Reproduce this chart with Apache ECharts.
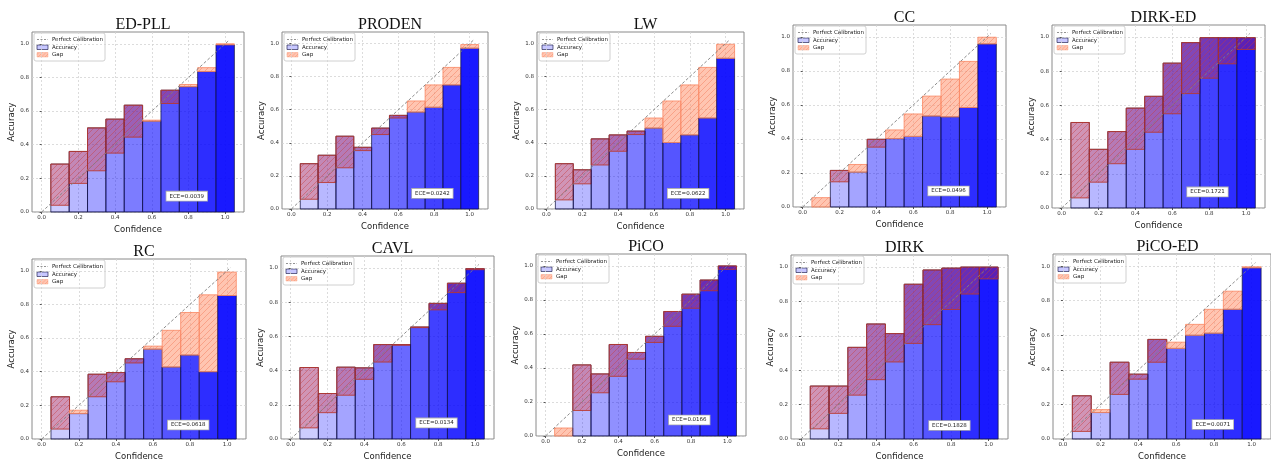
<!DOCTYPE html>
<html>
<head>
<meta charset="utf-8">
<script src="https://cdn.jsdelivr.net/npm/echarts@6.0.0/dist/echarts.min.js"></script>
<style>
  html, body { margin: 0; padding: 0; background: #fff; }
  #main { width: 1271px; height: 462px; }
</style>
</head>
<body>
<div id="main"></div>
<script>
// bin centres and tick labels
var bins = [0.1, 0.2, 0.3, 0.4, 0.5, 0.6, 0.7, 0.8, 0.9, 1.0];
var ticks = [0, 0.2, 0.4, 0.6, 0.8, 1.0];
var diagonal = [0, 1.02];

var models = ['ED-PLL', 'PRODEN', 'LW', 'CC', 'DIRK-ED', 'RC', 'CAVL', 'PiCO', 'DIRK', 'PiCO-ED'];
var eceValues = ['0.0039', '0.0242', '0.0622', '0.0496', '0.1721', '0.0618', '0.0134', '0.0166', '0.1828', '0.0071'];

// acc = lower edge of the gap, top = upper edge, kind: u = gap over accuracy (purple), o = gap above (salmon)
var edpllAcc = [0.04, 0.17, 0.245, 0.35, 0.445, 0.54, 0.645, 0.745, 0.835, 0.994];
var edpllTop = [0.285, 0.36, 0.5, 0.552, 0.635, 0.546, 0.724, 0.758, 0.858, 1.0];
var edpllKind = 'uuuuuouooo';

var prodenAcc = [0.059, 0.16, 0.249, 0.353, 0.45, 0.55, 0.586, 0.615, 0.75, 0.972];
var prodenTop = [0.274, 0.325, 0.44, 0.373, 0.489, 0.566, 0.653, 0.75, 0.856, 0.994];
var prodenKind = 'uuuuuuoooo';

var lwAcc = [0.055, 0.152, 0.266, 0.349, 0.45, 0.489, 0.402, 0.448, 0.55, 0.911];
var lwTop = [0.274, 0.237, 0.424, 0.448, 0.471, 0.55, 0.653, 0.75, 0.856, 0.996];
var lwKind = 'uuuuuooooo';

var ccAcc = [0, 0.148, 0.205, 0.352, 0.402, 0.415, 0.535, 0.53, 0.585, 0.959];
var ccTop = [0.055, 0.215, 0.25, 0.398, 0.453, 0.547, 0.652, 0.752, 0.856, 0.998];
var ccKind = 'ououoooooo';

var dirkedAcc = [0.059, 0.151, 0.259, 0.343, 0.443, 0.551, 0.669, 0.759, 0.843, 0.927];
var dirkedTop = [0.5, 0.343, 0.447, 0.584, 0.653, 0.847, 0.967, 0.996, 0.996, 0.996];
var dirkedKind = 'uuuuuuuuuu';

var rcAcc = [0.059, 0.151, 0.251, 0.34, 0.452, 0.534, 0.428, 0.499, 0.4, 0.853];
var rcTop = [0.251, 0.171, 0.385, 0.395, 0.477, 0.552, 0.646, 0.752, 0.857, 0.992];
var rcKind = 'uouuuooooo';

var cavlAcc = [0.065, 0.154, 0.256, 0.349, 0.45, 0.548, 0.651, 0.755, 0.856, 0.99];
var cavlTop = [0.418, 0.266, 0.42, 0.416, 0.552, 0.552, 0.655, 0.793, 0.911, 0.996];
var cavlKind = 'uuuuuuuuuu';

var picoAcc = [0, 0.15, 0.254, 0.351, 0.452, 0.55, 0.645, 0.751, 0.854, 0.98];
var picoTop = [0.047, 0.418, 0.365, 0.538, 0.491, 0.586, 0.732, 0.834, 0.917, 1.0];
var picoKind = 'ouuuuuuuuu';

var dirkAcc = [0.059, 0.149, 0.255, 0.345, 0.448, 0.556, 0.665, 0.753, 0.843, 0.931];
var dirkTop = [0.308, 0.308, 0.533, 0.669, 0.613, 0.9, 0.983, 0.994, 1.0, 1.0];
var dirkKind = 'uuuuuuuuuu';

var picoedAcc = [0.044, 0.153, 0.258, 0.346, 0.444, 0.524, 0.6, 0.612, 0.75, 0.99];
var picoedTop = [0.25, 0.17, 0.444, 0.375, 0.576, 0.56, 0.663, 0.75, 0.855, 0.996];
var picoedKind = 'uouuuooooo';

var accs = [edpllAcc, prodenAcc, lwAcc, ccAcc, dirkedAcc, rcAcc, cavlAcc, picoAcc, dirkAcc, picoedAcc];
var tops = [edpllTop, prodenTop, lwTop, ccTop, dirkedTop, rcTop, cavlTop, picoTop, dirkTop, picoedTop];
var kinds = [edpllKind, prodenKind, lwKind, ccKind, dirkedKind, rcKind, cavlKind, picoKind, dirkKind, picoedKind];

// plot boxes [left, top, width, height]
var layout = [
  [32, 32, 212, 180], [282, 32, 206, 177], [537, 32, 207, 177], [793, 25, 213, 182], [1052, 25, 213, 183],
  [32, 259, 214, 182], [281, 256, 213, 183], [536, 254, 210, 182], [791, 255, 217, 187], [1053, 254, 219, 187]
];

var sans = 'DejaVu Sans';

// diagonal "/" hatch clipped to a box
function hatch(x0, y0, x1, y1, step, style) {
  var out = [];
  var k = Math.ceil((x0 + y0) / step) * step;
  for (; k < x1 + y1; k += step) {
    var xa = Math.max(x0, k - y1), xb = Math.min(x1, k - y0);
    if (xb > xa) out.push({ type: 'line', silent: true, shape: { x1: xa, y1: k - xa, x2: xb, y2: k - xb }, style: style });
  }
  return out;
}

function renderBin(params, api) {
  var c = api.value(0), lo = api.value(1), hi = api.value(2), k = api.value(3), i = api.value(4);
  var a = 0.2 + 0.078 * i;
  var children = [];
  var purple = k === 0;
  var blueTop = purple ? hi : lo;
  if (blueTop > 0) {
    var p0 = api.coord([c - 0.05, 0]), p1 = api.coord([c + 0.05, blueTop]);
    children.push({
      type: 'rect',
      shape: { x: p0[0], y: p1[1], width: p1[0] - p0[0], height: p0[1] - p1[1] },
      style: { fill: 'rgba(0,0,255,' + a.toFixed(3) + ')', stroke: 'rgba(20,20,70,0.75)', lineWidth: 1 }
    });
  }
  var g0 = api.coord([c - 0.05, lo]), g1 = api.coord([c + 0.05, hi]);
  children.push({
    type: 'rect',
    shape: { x: g0[0], y: g1[1], width: g1[0] - g0[0], height: g0[1] - g1[1] },
    style: {
      fill: purple ? 'rgba(215,45,45,0.35)' : 'rgba(255,140,100,0.5)',
      stroke: purple ? 'rgba(185,55,45,0.85)' : 'rgba(250,140,105,0.85)',
      lineWidth: 1
    }
  });
  children = children.concat(hatch(g0[0], g1[1], g1[0], g0[1], 6, {
    stroke: purple ? 'rgba(200,60,60,0.55)' : 'rgba(240,110,75,0.5)', lineWidth: 0.8
  }));
  return { type: 'group', children: children };
}

function legendBox(x, y) {
  var t = { fontSize: 5.5, fontFamily: sans, fill: '#222', verticalAlign: 'middle' };
  var children = [
    { type: 'rect', shape: { x: 0, y: 0, width: 71, height: 28, r: 2 }, style: { fill: 'rgba(255,255,255,0.85)', stroke: '#d0d0d0', lineWidth: 1 } },
    { type: 'line', shape: { x1: 3, y1: 6.5, x2: 14, y2: 6.5 }, style: { stroke: '#777', lineWidth: 0.8, lineDash: [2, 1.5] } },
    { type: 'text', x: 18, y: 6.5, style: Object.assign({ text: 'Perfect Calibration' }, t) },
    { type: 'rect', shape: { x: 3, y: 12, width: 11, height: 4.5 }, style: { fill: 'rgba(0,0,255,0.22)', stroke: 'rgba(20,20,70,0.8)', lineWidth: 0.8 } },
    { type: 'text', x: 18, y: 14.3, style: Object.assign({ text: 'Accuracy' }, t) },
    { type: 'rect', shape: { x: 3, y: 19.5, width: 11, height: 4.5 }, style: { fill: 'rgba(255,140,100,0.5)', stroke: 'rgba(250,140,105,0.6)', lineWidth: 0.6 } },
    { type: 'text', x: 18, y: 21.8, style: Object.assign({ text: 'Gap' }, t) }
  ];
  children = children.concat(hatch(3, 19.5, 14, 24, 3.5, { stroke: 'rgba(240,110,75,0.5)', lineWidth: 0.6 }));
  return { type: 'group', x: x, y: y, children: children };
}

var grids = [], xAxes = [], yAxes = [], series = [], titles = [], graphics = [];

models.forEach(function (name, p) {
  var L = layout[p][0], T = layout[p][1], W = layout[p][2], H = layout[p][3];
  grids.push({ left: L, top: T, width: W, height: H, show: true, borderColor: '#8a8a8a', borderWidth: 1, backgroundColor: 'transparent' });
  var label = { fontSize: 5.5, fontFamily: sans, color: '#333', customValues: ticks, formatter: function (v) { return v.toFixed(1); } };
  var split = { show: true, lineStyle: { color: '#d4d4d4', type: [2, 2], width: 0.8 } };
  xAxes.push({
    gridIndex: p, type: 'value', min: -0.0525, max: 1.1025, splitNumber: 5,
    axisLine: { show: false },
    axisTick: { show: true, length: 2, customValues: ticks, lineStyle: { color: '#555' } },
    axisLabel: Object.assign({ margin: 3 }, label),
    splitLine: split,
    name: 'Confidence', nameLocation: 'middle', nameGap: 13,
    nameTextStyle: { fontSize: 8.5, fontFamily: sans, color: '#222' }
  });
  yAxes.push({
    gridIndex: p, type: 'value', min: 0, max: 1.07, splitNumber: 5,
    axisLine: { show: false },
    axisTick: { show: true, length: 2, customValues: ticks, lineStyle: { color: '#555' } },
    axisLabel: Object.assign({ margin: 3 }, label),
    splitLine: split,
    name: 'Accuracy', nameLocation: 'middle', nameGap: 16, nameRotate: 90,
    nameTextStyle: { fontSize: 8.5, fontFamily: sans, color: '#222' }
  });
  var rows = bins.map(function (b, i) {
    return [b, accs[p][i], tops[p][i], kinds[p][i] === 'u' ? 0 : 1, i];
  });
  series.push({
    type: 'custom', name: name, xAxisIndex: p, yAxisIndex: p, clip: false, z: 2,
    renderItem: renderBin, data: rows, silent: true
  });
  series.push({
    type: 'line', name: 'Perfect Calibration', xAxisIndex: p, yAxisIndex: p, z: 5,
    data: [[diagonal[0], diagonal[0]], [diagonal[1], diagonal[1]]],
    symbol: 'none', silent: true,
    lineStyle: { color: '#808080', width: 0.9, type: [3, 2] }
  });
  titles.push({
    text: name, left: L + W / 2, top: T - 20, textAlign: 'center',
    textStyle: { fontFamily: 'Liberation Serif', fontSize: 16, fontWeight: 'normal', color: '#111' }
  });
  graphics.push({
    type: 'text', x: L + 0.73 * W, y: T + H * 0.912, z: 10,
    style: {
      text: 'ECE=' + eceValues[p], fontSize: 5.5, fontFamily: sans, fill: '#222',
      align: 'center', verticalAlign: 'middle',
      backgroundColor: '#fff', borderColor: '#b0b0b0', borderWidth: 0.8, padding: [1.5, 3]
    }
  });
  graphics.push(Object.assign(legendBox(L + 2, T + 1), { z: 10 }));
});

var myChart = echarts.init(document.getElementById('main'), null, { renderer: 'canvas' });
myChart.setOption({
  animation: false,
  backgroundColor: '#fff',
  title: titles,
  grid: grids,
  xAxis: xAxes,
  yAxis: yAxes,
  series: series,
  graphic: { elements: graphics }
});
</script>
</body>
</html>
